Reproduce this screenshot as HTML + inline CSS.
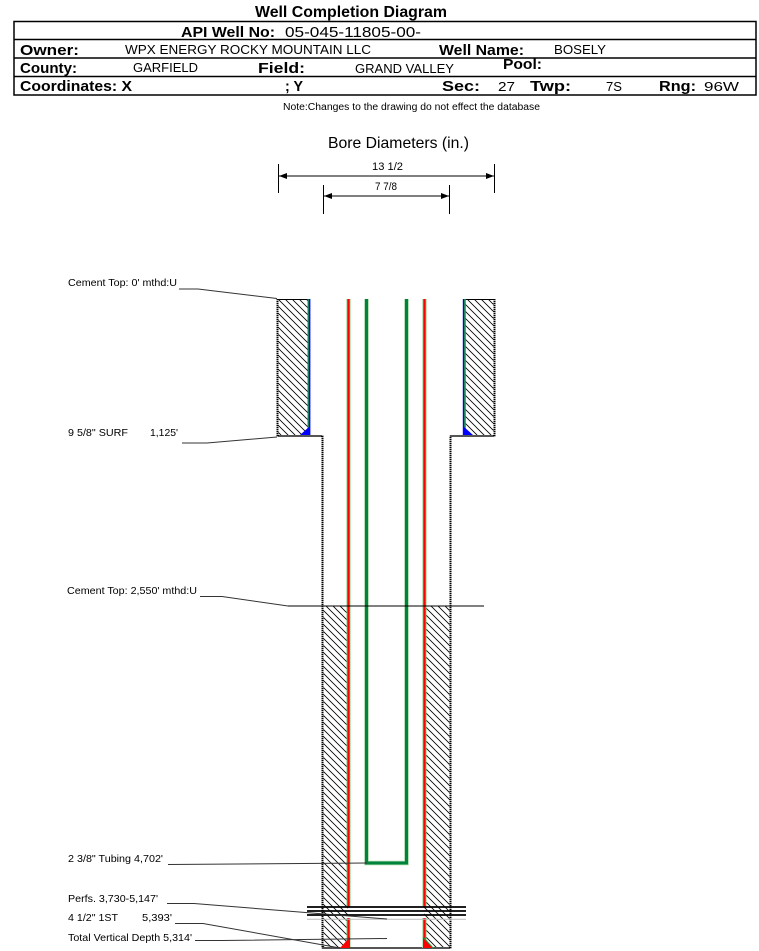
<!DOCTYPE html>
<html>
<head>
<meta charset="utf-8">
<style>
  html,body{margin:0;padding:0;background:#fff;}
  svg{display:block;}
  text{font-family:"Liberation Sans",Arial,sans-serif;fill:#000;}
  .b{font-weight:bold;}
</style>
</head>
<body>
<svg width="759" height="951" viewBox="0 0 759 951" xmlns="http://www.w3.org/2000/svg">
  <defs>
    <pattern id="h" patternUnits="userSpaceOnUse" width="7" height="7">
      <path d="M-1,-1 L8,8 M-1,6 L1,8 M6,-1 L8,1" stroke="#000" stroke-width="0.8" fill="none"/>
    </pattern>
  </defs>
  <rect x="0" y="0" width="759" height="951" fill="#fff"/>

  <!-- ===== HEADER ===== -->
  <text class="b" x="255" y="17" font-size="16" textLength="192" lengthAdjust="spacingAndGlyphs">Well Completion Diagram</text>

  <g stroke="#000" stroke-width="1.5" fill="none">
    <rect x="14" y="21.5" width="742" height="73.5"/>
    <line x1="14" y1="39.5" x2="756" y2="39.5"/>
    <line x1="14" y1="58" x2="756" y2="58"/>
    <line x1="14" y1="76.5" x2="756" y2="76.5"/>
  </g>

  <text class="b" x="181" y="37" font-size="15" textLength="94" lengthAdjust="spacingAndGlyphs">API Well No:</text>
  <text x="285" y="37" font-size="15" textLength="136" lengthAdjust="spacingAndGlyphs">05-045-11805-00-</text>

  <text class="b" x="20" y="55" font-size="15" textLength="59" lengthAdjust="spacingAndGlyphs">Owner:</text>
  <text x="125" y="54" font-size="13" textLength="246" lengthAdjust="spacingAndGlyphs">WPX ENERGY ROCKY MOUNTAIN LLC</text>
  <text class="b" x="439" y="55" font-size="15" textLength="85" lengthAdjust="spacingAndGlyphs">Well Name:</text>
  <text x="554" y="54" font-size="13" textLength="52" lengthAdjust="spacingAndGlyphs">BOSELY</text>

  <text class="b" x="20" y="73" font-size="15" textLength="57" lengthAdjust="spacingAndGlyphs">County:</text>
  <text x="133" y="72" font-size="13" textLength="65" lengthAdjust="spacingAndGlyphs">GARFIELD</text>
  <text class="b" x="258" y="73" font-size="15" textLength="47" lengthAdjust="spacingAndGlyphs">Field:</text>
  <text x="355" y="73" font-size="13" textLength="99" lengthAdjust="spacingAndGlyphs">GRAND VALLEY</text>
  <text class="b" x="503" y="69" font-size="15" textLength="39" lengthAdjust="spacingAndGlyphs">Pool:</text>

  <text class="b" x="20" y="91" font-size="15" textLength="112" lengthAdjust="spacingAndGlyphs">Coordinates: X</text>
  <text class="b" x="285" y="91" font-size="15" textLength="18" lengthAdjust="spacingAndGlyphs">; Y</text>
  <text class="b" x="442" y="91" font-size="15" textLength="38" lengthAdjust="spacingAndGlyphs">Sec:</text>
  <text x="498" y="91" font-size="13" textLength="17" lengthAdjust="spacingAndGlyphs">27</text>
  <text class="b" x="530" y="91" font-size="15" textLength="41" lengthAdjust="spacingAndGlyphs">Twp:</text>
  <text x="606" y="91" font-size="13" textLength="16" lengthAdjust="spacingAndGlyphs">7S</text>
  <text class="b" x="659" y="91" font-size="15" textLength="37" lengthAdjust="spacingAndGlyphs">Rng:</text>
  <text x="704" y="91" font-size="13" textLength="35" lengthAdjust="spacingAndGlyphs">96W</text>

  <text x="283" y="110" font-size="10" textLength="257" lengthAdjust="spacingAndGlyphs">Note:Changes to the drawing do not effect the database</text>

  <!-- ===== BORE DIAMETERS ===== -->
  <text x="328" y="148" font-size="16" textLength="141" lengthAdjust="spacingAndGlyphs">Bore Diameters (in.)</text>
  <g stroke="#000" stroke-width="1" fill="none">
    <line x1="278.5" y1="164" x2="278.5" y2="193"/>
    <line x1="494.5" y1="164" x2="494.5" y2="193"/>
    <line x1="279" y1="176" x2="494" y2="176"/>
    <line x1="323.5" y1="185" x2="323.5" y2="214"/>
    <line x1="449.5" y1="185" x2="449.5" y2="214"/>
    <line x1="324" y1="196" x2="449" y2="196"/>
  </g>
  <g fill="#000">
    <polygon points="279,176 287,173 287,179"/>
    <polygon points="494,176 486,173 486,179"/>
    <polygon points="324,196 332,193 332,199"/>
    <polygon points="449,196 441,193 441,199"/>
  </g>
  <text x="372" y="170" font-size="11" textLength="31" lengthAdjust="spacingAndGlyphs">13 1/2</text>
  <text x="375" y="190" font-size="11" textLength="22" lengthAdjust="spacingAndGlyphs">7 7/8</text>

  <!-- ===== WELLBORE ===== -->
  <rect x="278" y="299" width="31" height="136" fill="url(#h)"/>
  <rect x="464" y="299" width="30" height="136" fill="url(#h)"/>
  <rect x="323" y="606" width="25" height="342" fill="url(#h)"/>
  <rect x="424" y="606" width="26" height="342" fill="url(#h)"/>

  <g stroke="#000" stroke-width="1">
    <line x1="277" y1="299.5" x2="310" y2="299.5"/>
    <line x1="463" y1="299.5" x2="495" y2="299.5"/>
  </g>

  <!-- hole walls (dotted) -->
  <g fill="none" stroke-width="2">
    <path d="M277.5,299 L277.5,436 L322.5,436 L322.5,948 L450.5,948 L450.5,436 L494.5,436 L494.5,299" stroke="#aaa"/>
    <path d="M277.5,299 L277.5,436 L322.5,436 L322.5,948 L450.5,948 L450.5,436 L494.5,436 L494.5,299" stroke="#000" stroke-dasharray="1 1"/>
  </g>

  <!-- surface casing (blue) -->
  <g stroke-width="1.6">
    <line x1="308.3" y1="299" x2="308.3" y2="435" stroke="#1a9a3a"/>
    <line x1="309.6" y1="299" x2="309.6" y2="435" stroke="#0000ff"/>
    <line x1="463.6" y1="299" x2="463.6" y2="435" stroke="#0000ff"/>
    <line x1="465" y1="299" x2="465" y2="435" stroke="#1a9a3a"/>
  </g>
  <polygon points="300,435 310,435 310,426" fill="#0000ff"/>
  <polygon points="463,426 463,435 473,435" fill="#0000ff"/>

  <!-- production casing (red) -->
  <g>
    <line x1="348.5" y1="299" x2="348.5" y2="907" stroke="#7fc87f" stroke-width="4"/>
    <line x1="348.5" y1="918" x2="348.5" y2="948" stroke="#7fc87f" stroke-width="4"/>
    <line x1="424.5" y1="299" x2="424.5" y2="907" stroke="#7fc87f" stroke-width="4"/>
    <line x1="424.5" y1="918" x2="424.5" y2="948" stroke="#7fc87f" stroke-width="4"/>
    <line x1="348.5" y1="299" x2="348.5" y2="907" stroke="#ff0000" stroke-width="2.2"/>
    <line x1="348.5" y1="918" x2="348.5" y2="948" stroke="#ff0000" stroke-width="2.2"/>
    <line x1="424.5" y1="299" x2="424.5" y2="907" stroke="#ff0000" stroke-width="2.2"/>
    <line x1="424.5" y1="918" x2="424.5" y2="948" stroke="#ff0000" stroke-width="2.2"/>
  </g>
  <polygon points="340,948 350,948 350,937" fill="#ff0000"/>
  <polygon points="423,937 423,948 433,948" fill="#ff0000"/>
  <line x1="423" y1="937" x2="433" y2="948" stroke="#1a9a3a" stroke-width="1"/>

  <!-- tubing (green) -->
  <path d="M366.5,299 L366.5,863 L406.5,863 L406.5,299" fill="none" stroke="#a8d8a8" stroke-width="4.6"/>
  <path d="M366.5,299 L366.5,863 L406.5,863 L406.5,299" fill="none" stroke="#00843d" stroke-width="3"/>

  <!-- perforations -->
  <g stroke="#000" stroke-width="1.8">
    <line x1="307" y1="907" x2="466" y2="907"/>
    <line x1="307" y1="911" x2="466" y2="911"/>
    <line x1="307" y1="915" x2="466" y2="915"/>
  </g>
  <line x1="307" y1="919.3" x2="466" y2="919.3" stroke="#bbb" stroke-width="1"/>

  <line x1="288" y1="606" x2="484" y2="606" stroke="#000" stroke-width="1"/>

  <!-- ===== LABELS & LEADERS ===== -->
  <g stroke="#333" stroke-width="1" fill="none">
    <polyline points="179,289 198,289 277,298.5"/>
    <polyline points="182,443 207,443 277,437"/>
    <polyline points="200,596.5 222,596.5 288,606"/>
    <polyline points="168,864.5 367,863"/>
    <polyline points="167,903.5 194,903.5 387,919"/>
    <polyline points="175,923.5 203,923.5 340,948"/>
    <polyline points="195,940.5 222,940.5 387,938.5"/>
  </g>

  <g font-size="10.5">
    <text x="68" y="286" textLength="109" lengthAdjust="spacingAndGlyphs">Cement Top: 0' mthd:U</text>
    <text x="68" y="436" textLength="60" lengthAdjust="spacingAndGlyphs">9 5/8" SURF</text>
    <text x="150" y="436" textLength="28" lengthAdjust="spacingAndGlyphs">1,125'</text>
    <text x="67" y="594" textLength="130" lengthAdjust="spacingAndGlyphs">Cement Top: 2,550' mthd:U</text>
    <text x="68" y="862" textLength="95" lengthAdjust="spacingAndGlyphs">2 3/8" Tubing 4,702'</text>
    <text x="68" y="902" textLength="90" lengthAdjust="spacingAndGlyphs">Perfs. 3,730-5,147'</text>
    <text x="68" y="921" textLength="50" lengthAdjust="spacingAndGlyphs">4 1/2" 1ST</text>
    <text x="142" y="921" textLength="30" lengthAdjust="spacingAndGlyphs">5,393'</text>
    <text x="68" y="941" textLength="124" lengthAdjust="spacingAndGlyphs">Total Vertical Depth 5,314'</text>
  </g>
</svg>
</body>
</html>
